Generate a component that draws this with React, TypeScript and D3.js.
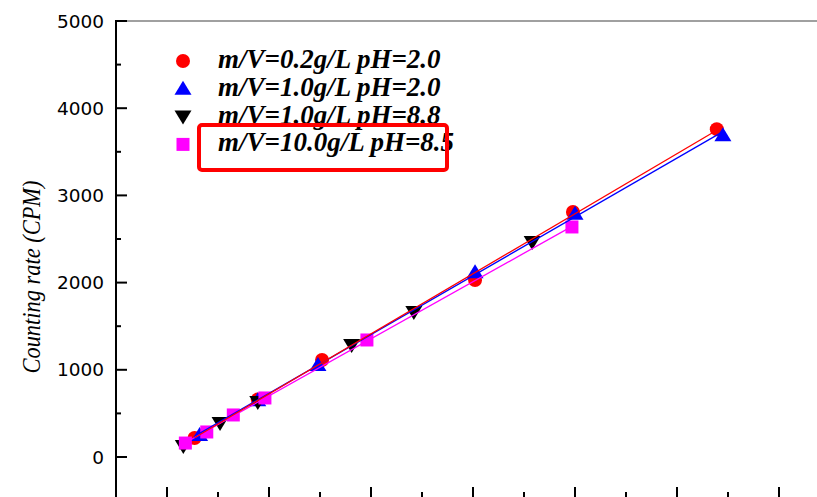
import * as d3 from 'd3'

const WIDTH = 817
const HEIGHT = 497

// series labels
const SERIES = ['m/V=0.2g/L pH=2.0', 'm/V=1.0g/L pH=2.0', 'm/V=1.0g/L pH=8.8', 'm/V=10.0g/L pH=8.5']

// x values (axis labels cut off in the picture), y = counting rate (CPM)
const redX = [0.27, 0.89, 1.52, 3.02, 3.98, 5.39]
const redY = [218, 660, 1112, 2030, 2810, 3760]
const blueX = [0.32, 0.89, 1.48, 3.02, 4.0, 5.45]
const blueY = [252, 650, 1055, 2120, 2790, 3690]
const blackX = [0.16, 0.52, 0.89, 1.81, 2.42, 3.58]
const blackY = [126, 390, 630, 1285, 1663, 2466]
const magentaX = [0.18, 0.39, 0.65, 0.96, 1.96, 3.97]
const magentaY = [160, 287, 482, 677, 1342, 2638]

const Y_TICKS = [0, 1000, 2000, 3000, 4000, 5000]

const RED = '#ff0000'
const BLUE = '#0000ff'
const BLACK = '#000000'
const MAGENTA = '#ff00ff'

function fit(xs: number[], ys: number[]) {
  const mx = d3.mean(xs) as number
  const my = d3.mean(ys) as number
  const sxy = d3.sum(xs, (x, i) => (x - mx) * (ys[i] - my))
  const sxx = d3.sum(xs, x => (x - mx) * (x - mx))
  const b = sxy / sxx
  const a = my - b * mx
  const [x0, x1] = d3.extent(xs) as [number, number]
  return [
    { x: x0, y: a + b * x0 },
    { x: x1, y: a + b * x1 }
  ]
}

function Marker({ kind, x, y, color }: { kind: string; x: number; y: number; color: string }) {
  if (kind === 'circle') return <circle cx={x} cy={y} r={7} fill={color} />
  if (kind === 'up') return <path d={`M${x},${y - 8}L${x + 8.5},${y + 6}L${x - 8.5},${y + 6}Z`} fill={color} />
  if (kind === 'down') return <path d={`M${x},${y + 8}L${x + 8.5},${y - 6}L${x - 8.5},${y - 6}Z`} fill={color} />
  return <rect x={x - 6.5} y={y - 6.5} width={13} height={13} fill={color} />
}

export default function App() {
  const x = d3.scaleLinear().domain([-0.5, 6.5]).range([116, 830])
  const y = d3.scaleLinear().domain([0, 5000]).range([457, 21])
  const line = d3.line<{ x: number; y: number }>().x(d => x(d.x)).y(d => y(d.y))

  const series = [
    { xs: redX, ys: redY, color: RED, kind: 'circle' },
    { xs: blueX, ys: blueY, color: BLUE, kind: 'up' },
    { xs: blackX, ys: blackY, color: BLACK, kind: 'down' },
    { xs: magentaX, ys: magentaY, color: MAGENTA, kind: 'square' }
  ]
  const fitted = [series[3], series[1], series[0]]

  const yMinor = d3.range(500, 5000, 1000)
  const xMajor = d3.range(0, 7, 1)
  const xMinor = d3.range(0.5, 6.5, 1)
  const axisY = 498

  return (
    <div>
      <style>{'body{margin:0}'}</style>
      <svg width={WIDTH} height={HEIGHT} style={{ display: 'block', background: '#fff' }}>
        {/* top frame */}
        <line x1={116} x2={WIDTH} y1={y(5000)} y2={y(5000)} stroke="#808080" strokeWidth={1.5} />
        {/* y axis */}
        <line x1={116} x2={116} y1={y(5000) - 1} y2={HEIGHT} stroke="#000" strokeWidth={2} />
        {Y_TICKS.map(t => (
          <g key={t}>
            <line x1={115} x2={127} y1={y(t)} y2={y(t)} stroke="#000" strokeWidth={2} />
            <text x={104} y={y(t)} dy="0.36em" textAnchor="end" fontFamily="DejaVu Sans" fontSize={18.5} fill="#000">
              {t}
            </text>
          </g>
        ))}
        {yMinor.map(t => (
          <line key={t} x1={115} x2={121} y1={y(t)} y2={y(t)} stroke="#000" strokeWidth={2} />
        ))}
        {/* x axis ticks (axis itself is below the picture) */}
        {xMajor.map(t => (
          <line key={t} x1={x(t)} x2={x(t)} y1={axisY} y2={axisY - 11} stroke="#000" strokeWidth={2} />
        ))}
        {xMinor.map(t => (
          <line key={t} x1={x(t)} x2={x(t)} y1={axisY} y2={axisY - 6} stroke="#000" strokeWidth={2} />
        ))}
        <text
          transform={`translate(40,277) rotate(-90)`}
          textAnchor="middle"
          fontFamily="Liberation Serif"
          fontStyle="italic"
          fontSize={26}
          textLength={193}
          lengthAdjust="spacingAndGlyphs"
          fill="#000"
        >
          Counting rate (CPM)
        </text>

        {/* markers */}
        {series.map((s, si) => (
          <g key={si}>
            {s.xs.map((v, i) => (
              <Marker key={i} kind={s.kind} x={x(v)} y={y(s.ys[i])} color={s.color} />
            ))}
          </g>
        ))}
        {/* linear fits */}
        {fitted.map((s, i) => (
          <path key={i} d={line(fit(s.xs, s.ys)) || ''} fill="none" stroke={s.color} strokeWidth={1.3} />
        ))}

        {/* legend */}
        {series.map((s, i) => (
          <g key={i}>
            <Marker kind={s.kind} x={183} y={61 + i * 27.8} color={s.color} />
            <text
              x={218}
              y={61 + i * 27.8 + 7}
              fontFamily="Liberation Serif"
              fontWeight="bold"
              fontStyle="italic"
              fontSize={27}
              fill="#000"
            >
              {SERIES[i]}
            </text>
          </g>
        ))}
        <rect x={199} y={125} width={248} height={45} rx={3} fill="none" stroke="#ff0000" strokeWidth={4} />
      </svg>
    </div>
  )
}
